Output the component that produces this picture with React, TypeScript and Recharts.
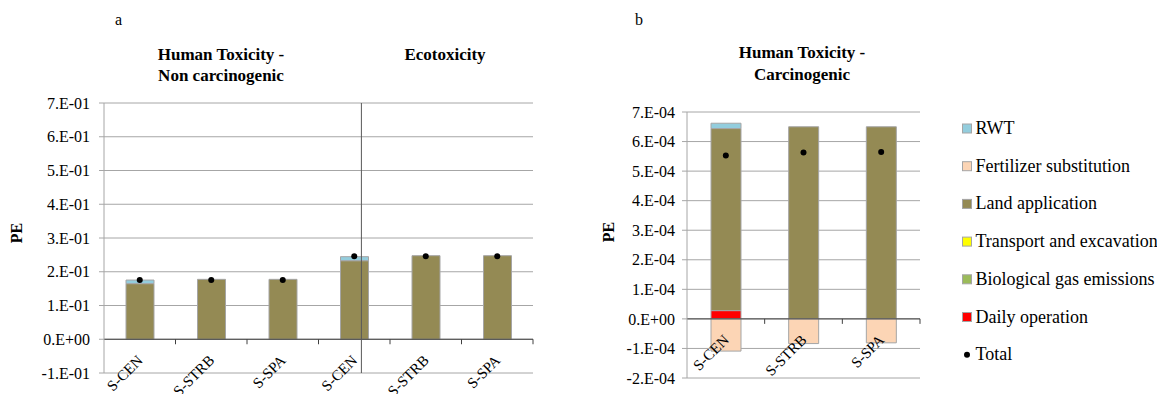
import React from 'react';
import {
  ComposedChart,
  Bar,
  Line,
  XAxis,
  YAxis,
  CartesianGrid,
  ReferenceLine,
} from 'recharts';

// ---------------------------------------------------------------------------
// Data — panel a (Human Toxicity non carcinogenic + Ecotoxicity)
// ---------------------------------------------------------------------------

const CATEGORIES_A = ['S-CEN', 'S-STRB', 'S-SPA', 'S-CEN', 'S-STRB', 'S-SPA'];
const DAILY_A = [0, 0, 0, 0, 0, 0];
const BIO_A = [0, 0, 0, 0, 0, 0];
const TRANSPORT_A = [0, 0, 0, 0, 0, 0];
const LAND_A = [0.1648, 0.1775, 0.1775, 0.2328, 0.2476, 0.2476];
const FERT_A = [0, 0, 0, 0, 0, 0];
const RWT_A = [0.0106, 0, 0, 0.0119, 0, 0];
const TOTAL_A = [0.1754, 0.1754, 0.1754, 0.2456, 0.2456, 0.2456];
const TICKS_A = [-0.1, 0, 0.1, 0.2, 0.3, 0.4, 0.5, 0.6, 0.7];

// ---------------------------------------------------------------------------
// Data — panel b (Human Toxicity carcinogenic)
// ---------------------------------------------------------------------------

const CATEGORIES_B = ['S-CEN', 'S-STRB', 'S-SPA'];
const DAILY_B = [2.8e-5, 0, 0];
const BIO_B = [0, 0, 0];
const TRANSPORT_B = [0, 0, 0];
const LAND_B = [6.16e-4, 6.5e-4, 6.5e-4];
const FERT_B = [-1.09e-4, -0.835e-4, -0.81e-4];
const RWT_B = [1.8e-5, 0, 0];
const TOTAL_B = [5.53e-4, 5.63e-4, 5.65e-4];
const TICKS_B = [-2e-4, -1e-4, 0, 1e-4, 2e-4, 3e-4, 4e-4, 5e-4, 6e-4, 7e-4];

// Legend order (top → bottom), same as Excel
const LEGEND = [
  { key: 'rwt', name: 'RWT', color: '#93CDDD' },
  { key: 'fert', name: 'Fertilizer substitution', color: '#FCD5B5' },
  { key: 'land', name: 'Land application', color: '#948A54' },
  { key: 'transport', name: 'Transport and excavation', color: '#FFFF00' },
  { key: 'bio', name: 'Biological gas emissions', color: '#9BBB59' },
  { key: 'daily', name: 'Daily operation', color: '#FF0000' },
];

const COLOR: Record<string, string> = Object.fromEntries(LEGEND.map((l) => [l.key, l.color]));
// stacking order bottom → top
const STACK = ['daily', 'bio', 'transport', 'land', 'fert', 'rwt'];

const SERIF = '"Liberation Serif", "Times New Roman", serif';
const GRID = '#a6a6a6';
const AXIS_DARK = '#404040';

function buildRows(
  cats: string[],
  s: Record<string, number[]>,
  total: number[],
) {
  return cats.map((name, i) => ({
    name,
    daily: s.daily[i],
    bio: s.bio[i],
    transport: s.transport[i],
    land: s.land[i],
    fert: s.fert[i],
    rwt: s.rwt[i],
    total: total[i],
  }));
}

const rowsA = buildRows(
  CATEGORIES_A,
  { daily: DAILY_A, bio: BIO_A, transport: TRANSPORT_A, land: LAND_A, fert: FERT_A, rwt: RWT_A },
  TOTAL_A,
);
const rowsB = buildRows(
  CATEGORIES_B,
  { daily: DAILY_B, bio: BIO_B, transport: TRANSPORT_B, land: LAND_B, fert: FERT_B, rwt: RWT_B },
  TOTAL_B,
);

/** Excel "0.E+00" number format */
function fmtSci(v: number): string {
  if (Math.abs(v) < 1e-12) return '0.E+00';
  const exp = Math.floor(Math.log10(Math.abs(v)) + 1e-9);
  const m = Math.round(v / Math.pow(10, exp));
  const sign = exp < 0 ? '-' : '+';
  return `${m}.E${sign}${String(Math.abs(exp)).padStart(2, '0')}`;
}

type TickProps = {
  x?: number;
  y?: number;
  payload?: { value: string };
  zeroY: number;
  half: number;
};

/** Category label rotated -45°, hung off the zero line (Excel axis crosses at 0). */
function CatTick({ x = 0, payload, zeroY, half }: TickProps) {
  const px = x + 4;
  const py = zeroY + 22;
  return (
    <g>
      <line x1={x + half} x2={x + half} y1={zeroY} y2={zeroY + 5} stroke={AXIS_DARK} />
      <text
        x={px}
        y={py}
        transform={`rotate(-45 ${px} ${py})`}
        textAnchor="end"
        fontSize={15}
        fontFamily={SERIF}
        fill="#000"
      >
        {payload?.value}
      </text>
    </g>
  );
}

type PanelProps = {
  rows: ReturnType<typeof buildRows>;
  width: number;
  height: number;
  top: number;
  bottomAxis: number;
  left: number;
  right: number;
  domain: [number, number];
  ticks: number[];
  tickMargin: number;
  barSize: number;
  divider?: number;
};

function Panel({
  rows,
  width,
  height,
  top,
  bottomAxis,
  left,
  right,
  domain,
  ticks,
  tickMargin,
  barSize,
  divider,
}: PanelProps) {
  const yAxisW = 90;
  const plotTop = top;
  const plotBottom = height - bottomAxis;
  const plotW = width - left - yAxisW - right;
  const zeroY = plotTop + (domain[1] / (domain[1] - domain[0])) * (plotBottom - plotTop);
  const half = plotW / rows.length / 2;

  return (
    <ComposedChart
      width={width}
      height={height}
      data={rows}
      stackOffset="sign"
      margin={{ top, right, bottom: 0, left }}
    >
      <CartesianGrid vertical={false} stroke={GRID} />
      <XAxis
        dataKey="name"
        height={bottomAxis}
        axisLine={false}
        tickLine={false}
        interval={0}
        tick={(p: any) => <CatTick {...p} zeroY={zeroY} half={half} />}
      />
      <XAxis xAxisId="div" type="number" domain={[0, rows.length]} hide />
      <YAxis
        width={yAxisW}
        type="number"
        domain={domain}
        ticks={ticks}
        interval={0}
        allowDataOverflow
        tickFormatter={fmtSci}
        tickSize={5}
        tickMargin={tickMargin}
        axisLine={{ stroke: GRID }}
        tickLine={{ stroke: GRID }}
        tick={{ fontSize: 16, fill: '#000', fontFamily: SERIF }}
      />
      {STACK.map((k) => (
        <Bar
          key={k}
          dataKey={k}
          stackId="s"
          fill={COLOR[k]}
          stroke="#a5a5a5"
          strokeWidth={1}
          barSize={barSize}
          isAnimationActive={false}
        />
      ))}
      <ReferenceLine y={0} stroke={AXIS_DARK} />
      {divider !== undefined && (
        <ReferenceLine x={divider} xAxisId="div" stroke="#595959" />
      )}
      <Line
        dataKey="total"
        stroke="none"
        dot={{ r: 3, fill: '#000', stroke: '#000', strokeWidth: 0 }}
        activeDot={false}
        isAnimationActive={false}
      />
    </ComposedChart>
  );
}

const textStyle = { fontFamily: SERIF, fill: '#000' } as const;

export default function App() {
  return (
    <div
      style={{
        position: 'absolute',
        left: 0,
        top: 0,
        width: 1157,
        height: 394,
        background: '#fff',
        overflow: 'hidden',
      }}
    >
      <div style={{ position: 'absolute', left: 0, top: 0 }}>
        <Panel
          rows={rowsA}
          width={560}
          height={394}
          top={103}
          bottomAxis={21}
          left={14}
          right={27}
          domain={[-0.1, 0.7]}
          ticks={TICKS_A}
          tickMargin={9}
          barSize={28}
          divider={3}
        />
      </div>
      <div style={{ position: 'absolute', left: 580, top: 0 }}>
        <Panel
          rows={rowsB}
          width={360}
          height={394}
          top={112}
          bottomAxis={16}
          left={17}
          right={20}
          domain={[-2e-4, 7e-4]}
          ticks={TICKS_B}
          tickMargin={7}
          barSize={30}
        />
      </div>

      {/* titles, panel letters, axis titles and legend */}
      <svg
        width={1157}
        height={394}
        style={{ position: 'absolute', left: 0, top: 0, pointerEvents: 'none' }}
      >
        <text x={115} y={25} fontSize={16} {...textStyle}>a</text>
        <text x={635} y={25} fontSize={16} {...textStyle}>b</text>

        <g fontSize={17} fontWeight="bold" textAnchor="middle" {...textStyle}>
          <text x={221} y={59.5}>Human Toxicity -</text>
          <text x={221} y={81}>Non carcinogenic</text>
          <text x={445} y={59.5}>Ecotoxicity</text>
          <text x={802} y={58}>Human Toxicity -</text>
          <text x={802} y={79.5}>Carcinogenic</text>
        </g>

        <text
          x={21.5}
          y={233}
          transform="rotate(-90 21.5 233)"
          textAnchor="middle"
          fontSize={16}
          fontWeight="bold"
          {...textStyle}
        >
          PE
        </text>
        <text
          x={613.5}
          y={232}
          transform="rotate(-90 613.5 232)"
          textAnchor="middle"
          fontSize={16}
          fontWeight="bold"
          {...textStyle}
        >
          PE
        </text>

        {LEGEND.map((l, i) => {
          const cy = 128.5 + i * 37.7;
          return (
            <g key={l.key}>
              <rect x={962.5} y={cy - 4.5} width={9} height={9} fill={l.color} stroke="#a5a5a5" />
              <text x={975.5} y={cy + 5.5} fontSize={18} {...textStyle}>
                {l.name}
              </text>
            </g>
          );
        })}
        <circle cx={967} cy={128.5 + 6 * 37.7} r={3} fill="#000" />
        <text x={975.5} y={128.5 + 6 * 37.7 + 5.5} fontSize={18} {...textStyle}>
          Total
        </text>
      </svg>
    </div>
  );
}
